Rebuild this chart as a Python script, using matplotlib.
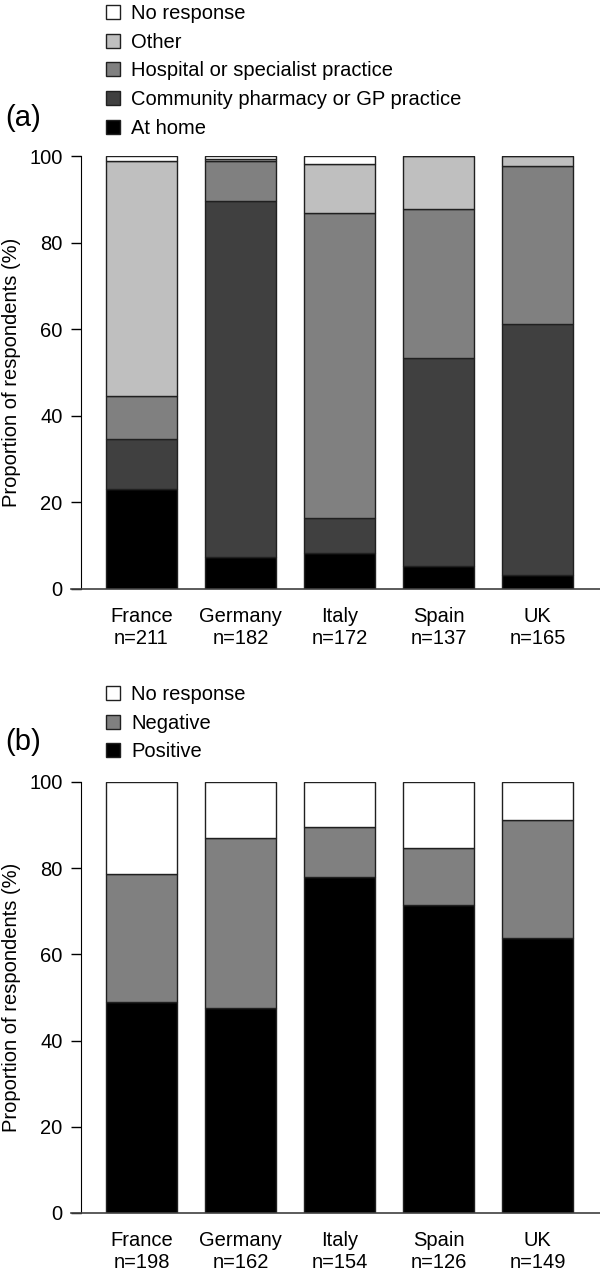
import numpy as np
import matplotlib
matplotlib.use("Agg")
import matplotlib.pyplot as plt

plt.rcParams['font.family'] = ['Liberation Sans', 'DejaVu Sans']

countries = ["France", "Germany", "Italy", "Spain", "UK"]

# panel (a): where respondents would go (%)
n_a = [211, 182, 172, 137, 165]
at_home = [23.0, 7.4, 8.4, 5.4, 3.2]
community = [11.6, 82.2, 7.9, 47.9, 58.1]
hospital = [10.0, 9.2, 70.5, 34.5, 36.3]
other = [54.3, 0.6, 11.4, 12.2, 2.4]
no_resp_a = [1.1, 0.6, 1.8, 0.0, 0.0]

# panel (b): attitude (%)
n_b = [198, 162, 154, 126, 149]
positive = [49.0, 47.5, 77.9, 71.5, 63.8]
negative = [29.6, 39.5, 11.7, 13.3, 27.3]
no_resp_b = [21.4, 13.0, 10.4, 15.2, 8.9]

W, H = 600, 1274
fig = plt.figure(figsize=(W / 100, H / 100), dpi=100)
FS = 14.5


def stacked(ax, series, labels, colors, nvals):
    x = np.arange(len(countries))
    bottom = np.zeros(len(countries))
    handles = []
    for vals, lab, col in zip(series, labels, colors):
        b = ax.bar(x, vals, 0.72, bottom=bottom, color=col, edgecolor='#202020',
                   linewidth=1.0, label=lab)
        handles.append(b)
        bottom = bottom + np.array(vals)
    ax.set_xlim(-0.712, 4.63)
    ax.set_ylim(0, 100)
    ax.set_yticks([0, 20, 40, 60, 80, 100])
    ax.set_xticks(x)
    ax.set_xticklabels([f"{c}\nn={n}" for c, n in zip(countries, nvals)],
                       fontsize=FS, linespacing=1.2)
    ax.tick_params(axis='x', length=0, pad=13)
    ax.tick_params(axis='y', length=7.2, width=1.0, labelsize=FS, pad=6)
    ax.spines['top'].set_visible(False)
    ax.spines['right'].set_visible(False)
    ax.spines['left'].set_position(('axes', 10 / 529))
    ax.spines['bottom'].set_color('#404040')
    ax.spines['bottom'].set_linewidth(1.2)
    ax.set_ylabel("Proportion of respondents (%)", fontsize=FS)
    ax.yaxis.set_label_coords(-50 / 529, 0.5)
    return handles


def legend(handles, top_px):
    fig.legend(handles=handles[::-1], loc='upper left',
               bbox_to_anchor=(106 / W, 1 - top_px / H),
               frameon=False, fontsize=FS, handlelength=0.7, handleheight=0.7,
               handletextpad=0.55, labelspacing=0.48, borderpad=0, borderaxespad=0)


ax1 = fig.add_axes([71 / W, 1 - 589 / H, 529 / W, 433 / H])
h1 = stacked(ax1, [at_home, community, hospital, other, no_resp_a],
             ["At home", "Community pharmacy or GP practice",
              "Hospital or specialist practice", "Other", "No response"],
             ['#000000', '#404040', '#808080', '#bfbfbf', '#ffffff'], n_a)
legend(h1, 4)
fig.text(5 / W, 1 - 118 / H, "(a)", fontsize=21, va='center', ha='left')

ax2 = fig.add_axes([71 / W, 1 - 1213 / H, 529 / W, 431 / H])
h2 = stacked(ax2, [positive, negative, no_resp_b],
             ["Positive", "Negative", "No response"],
             ['#000000', '#808080', '#ffffff'], n_b)
legend(h2, 685)
fig.text(5 / W, 1 - 742 / H, "(b)", fontsize=21, va='center', ha='left')

fig.savefig("out.png", dpi=100)
